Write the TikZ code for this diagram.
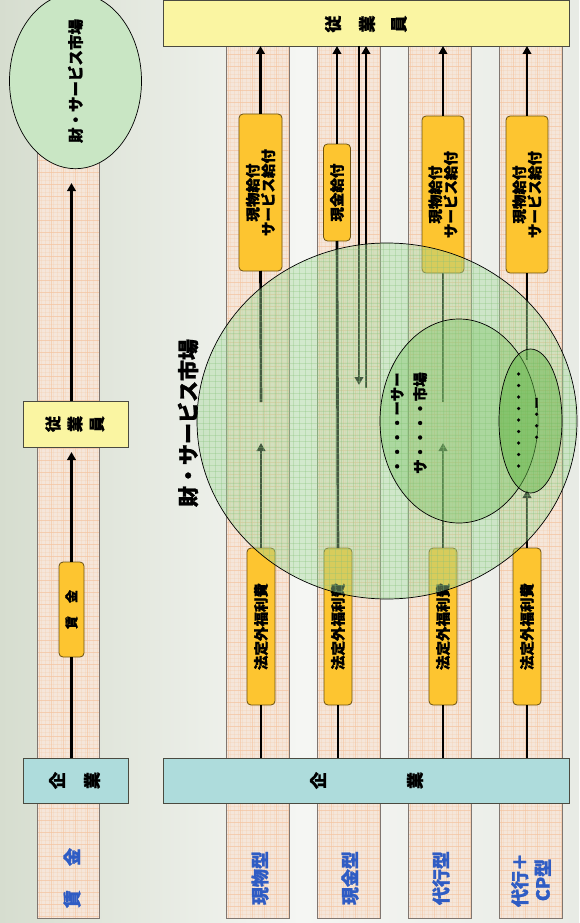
\documentclass[tikz,border=0pt]{standalone}
\usepackage{fontspec}
\newfontfamily\jp{Noto Sans CJK JP}[BoldFeatures={FakeBold=1.2}]
\usetikzlibrary{arrows.meta,shapes.geometric}
\definecolor{bgL}{HTML}{D6DDCF}
\definecolor{bgM}{HTML}{F5F6F3}
\definecolor{bgR}{HTML}{E8EBE5}
\definecolor{stripfill}{HTML}{F5E6DA}
\definecolor{stripline}{HTML}{807670}
\definecolor{gridc}{HTML}{F4C39E}
\definecolor{yfill}{HTML}{FAF5A2}
\definecolor{tfill}{HTML}{AEDCDC}
\definecolor{ofill}{HTML}{FDC530}
\definecolor{oline}{HTML}{6B5010}
\definecolor{bline}{HTML}{4A4A40}
\definecolor{lblue}{HTML}{2F5CC4}
\definecolor{mk0fill}{HTML}{C9E6C4}
\definecolor{mkA}{HTML}{A3D899}
\definecolor{mkB}{HTML}{7CC466}
\definecolor{mkC}{HTML}{5FB545}
\definecolor{ggrid}{HTML}{86C278}
\begin{document}
\begin{tikzpicture}[x=1pt,y=-1pt,
  every node/.style={font=\jp\bfseries, inner sep=0pt, outer sep=0pt},
  ybox/.style={rectangle, fill=yfill, draw=bline, line width=0.9pt},
  tbox/.style={rectangle, fill=tfill, draw=bline, line width=0.9pt},
  obox/.style={rectangle, rounded corners=4pt, fill=ofill, draw=oline, line width=0.8pt, rotate=90, align=center},
  flow/.style={line width=2.6pt, draw=black},
  arr/.style={flow, -{Triangle[width=8.5pt,length=8pt]}},
  vtxt/.style={rotate=90, align=center},
  bluelabel/.style={rotate=90, align=center, text=lblue, font=\jp\bfseries\fontsize{18}{23}\selectfont},
  chr/.style={rotate=90, font=\jp\bfseries\fontsize{17}{17}\selectfont},
  mkt/.style={ellipse, draw=black, line width=0.7pt}
]
\useasboundingbox (0,0) rectangle (579,923);
\shade[left color=bgL, right color=bgM] (0,0) rectangle (300,923);
\shade[left color=bgM, right color=bgR] (300,0) rectangle (579,923);

% column strips with grid
\foreach \xa/\xb/\ya in {37/99/80, 226/289/46, 317/380/46, 408/471/46, 499/562/46} {
  \fill[stripfill] (\xa,\ya) rectangle (\xb,918);
  \begin{scope}
    \clip (\xa,\ya) rectangle (\xb,918);
    \foreach \gx in {0,4,...,64} \draw[gridc, opacity=0.22, line width=0.3pt] (\xa+\gx,\ya) -- (\xa+\gx,918);
    \foreach \gy in {0,4,...,872} \draw[gridc, opacity=0.22, line width=0.3pt] (\xa,\ya+\gy) -- (\xb,\ya+\gy);
    \foreach \gx in {2,14,...,62} \draw[gridc, opacity=0.6, line width=0.5pt] (\xa+\gx,\ya) -- (\xa+\gx,918);
    \foreach \gy in {8,20,...,872} \draw[gridc, opacity=0.6, line width=0.5pt] (\xa,\ya+\gy) -- (\xb,\ya+\gy);
  \end{scope}
  \draw[stripline, line width=0.9pt] (\xa,\ya) rectangle (\xb,918);
}

% ---------- left model ----------
\node[mkt, fill=mk0fill, rotate=90, minimum width=153pt, minimum height=132pt,
      font=\jp\bfseries\fontsize{15.5}{15}\selectfont] (mk0) at (75.5,81) {財・サービス市場};
\node[ybox, minimum width=105pt, minimum height=46pt] (emp0) at (75.5,424) {};
\node[chr, font=\jp\bfseries\fontsize{16}{16}\selectfont] (e0a) at (53,424) {従};
\node[chr, font=\jp\bfseries\fontsize{16}{16}\selectfont] (e0b) at (75,424) {業};
\node[chr, font=\jp\bfseries\fontsize{16}{16}\selectfont] (e0c) at (97,424) {員};
\node[tbox, minimum width=105pt, minimum height=45pt] (comp0) at (75.5,780.5) {};
\node[chr] (c0a) at (57,780.5) {企};
\node[chr] (c0b) at (92,780.5) {業};
\node[obox, minimum width=95pt, minimum height=25pt,
      font=\jp\bfseries\fontsize{13}{13}\selectfont] (g0) at (71.5,609.5) {賃\hspace{13pt}金};
\coordinate (t0) at (71.5,183);
\draw[flow] (g0.west |- comp0.north) -- (g0.west);
\draw[arr, shorten >=5pt] (g0.east) -- (g0.east |- emp0.south);
\draw[arr] (g0.east |- emp0.north) -- (t0);
\node[bluelabel] (l0) at (72,878) {賃\hspace{24pt}金};

% ---------- right models ----------
\node[ybox, minimum width=406pt, minimum height=46pt] (emp) at (366,23) {};
\node[chr] (ea) at (333,24) {従};
\node[chr] (eb) at (367,24) {業};
\node[chr] (ec) at (399,24) {員};
\node[tbox, minimum width=406pt, minimum height=45pt] (comp) at (366,780.5) {};
\node[chr] (ca) at (318,780.5) {企};
\node[chr] (cb) at (415,780.5) {業};

% upper boxes
\node[obox, minimum width=157pt, minimum height=43pt, font=\jp\bfseries\fontsize{14.5}{15.5}\selectfont] (g1) at (260.5,192.5) {現物給付\\サービス給付};
\node[obox, minimum width=97pt, minimum height=27pt, font=\jp\bfseries\fontsize{14.5}{15.5}\selectfont] (g2) at (337,192.5) {現金給付};
\node[obox, minimum width=157pt, minimum height=42pt, font=\jp\bfseries\fontsize{14.5}{15.5}\selectfont] (g3) at (443,194.5) {現物給付\\サービス給付};
\node[obox, minimum width=157pt, minimum height=42pt, font=\jp\bfseries\fontsize{14.5}{15.5}\selectfont] (g4) at (527,194.5) {現物給付\\サービス給付};
% lower boxes
\foreach \n/\x in {h1/261, h2/338, h3/443, h4/527}
  \node[obox, minimum width=157pt, minimum height=28pt, font=\jp\bfseries\fontsize{14.5}{14.5}\selectfont] (\n) at (\x,626.5) {法定外福利費};

% free ends
\coordinate (a1) at (261,443);
\coordinate (b1) at (261,402);
\coordinate (a3) at (443,443);
\coordinate (b3) at (443,402);
\coordinate (a4) at (527,490);
\coordinate (b4) at (527,360);
\coordinate (dn) at (359,385);
\coordinate (up) at (366,388);

% connectors
\foreach \n in {h1,h2,h3,h4} \draw[flow] (\n.west |- comp.north) -- (\n.west);
\foreach \n in {g1,g2,g3,g4} \draw[arr] (\n.east) -- (\n.east |- emp.south);
\draw[arr] (h1.east) -- (a1);
\draw[flow] (b1) -- (g1.west);
\draw[flow] (h2.east) -- (g2.west);
\draw[arr] (h3.east) -- (a3);
\draw[flow] (b3) -- (g3.west);
\draw[arr] (h4.east) -- (a4);
\draw[flow] (b4) -- (g4.west);
\draw[arr] (dn |- emp.south) -- (dn);
\draw[arr] (up) -- (up |- emp.south);

% markets
\node[ellipse, minimum width=380pt, minimum height=356pt] (mk1) at (387,421) {};
\fill[mkA, opacity=0.42] (387,421) ellipse [x radius=190, y radius=178];
\begin{scope}
  \clip (387,421) ellipse [x radius=190, y radius=178];
  \foreach \gx in {0,6,...,384} \draw[ggrid, opacity=0.3, line width=0.4pt] (197+\gx,243) -- (197+\gx,599);
  \foreach \gy in {0,6,...,360} \draw[ggrid, opacity=0.3, line width=0.4pt] (197,243+\gy) -- (577,243+\gy);
\end{scope}
\draw[black, line width=0.7pt] (387,421) ellipse [x radius=190, y radius=178];

\node[ellipse, minimum width=158pt, minimum height=204pt] (mk2) at (459,421) {};
\fill[mkB, opacity=0.42] (459,421) ellipse [x radius=79, y radius=102];
\draw[black, line width=0.7pt] (459,421) ellipse [x radius=79, y radius=102];

\node[ellipse, minimum width=63pt, minimum height=144pt] (mk3) at (530.5,421) {};
\fill[mkC, opacity=0.5] (530.5,421) ellipse [x radius=31.5, y radius=72];
\draw[black, line width=0.7pt] (530.5,421) ellipse [x radius=31.5, y radius=72];

\node[vtxt, font=\jp\bfseries\fontsize{21}{21}\selectfont] (m1t) at (188,423) {財・サービス市場};
\node[vtxt, font=\jp\bfseries\fontsize{14.5}{23}\selectfont] (m2t) at (409,423) {・・・・ーサー\\サ・・・・市場};
\node[vtxt, font=\jp\bfseries\fontsize{11.5}{18}\selectfont] (m3t) at (529,420) {・・・・・・・・・\\・・・ー};

% type labels
\node[bluelabel] (l1) at (260,878) {現物型};
\node[bluelabel] (l2) at (350,878) {現金型};
\node[bluelabel] (l3) at (441,878) {代行型};
\node[bluelabel] (l4) at (531,880) {代行＋\\CP型};
\end{tikzpicture}
\end{document}
